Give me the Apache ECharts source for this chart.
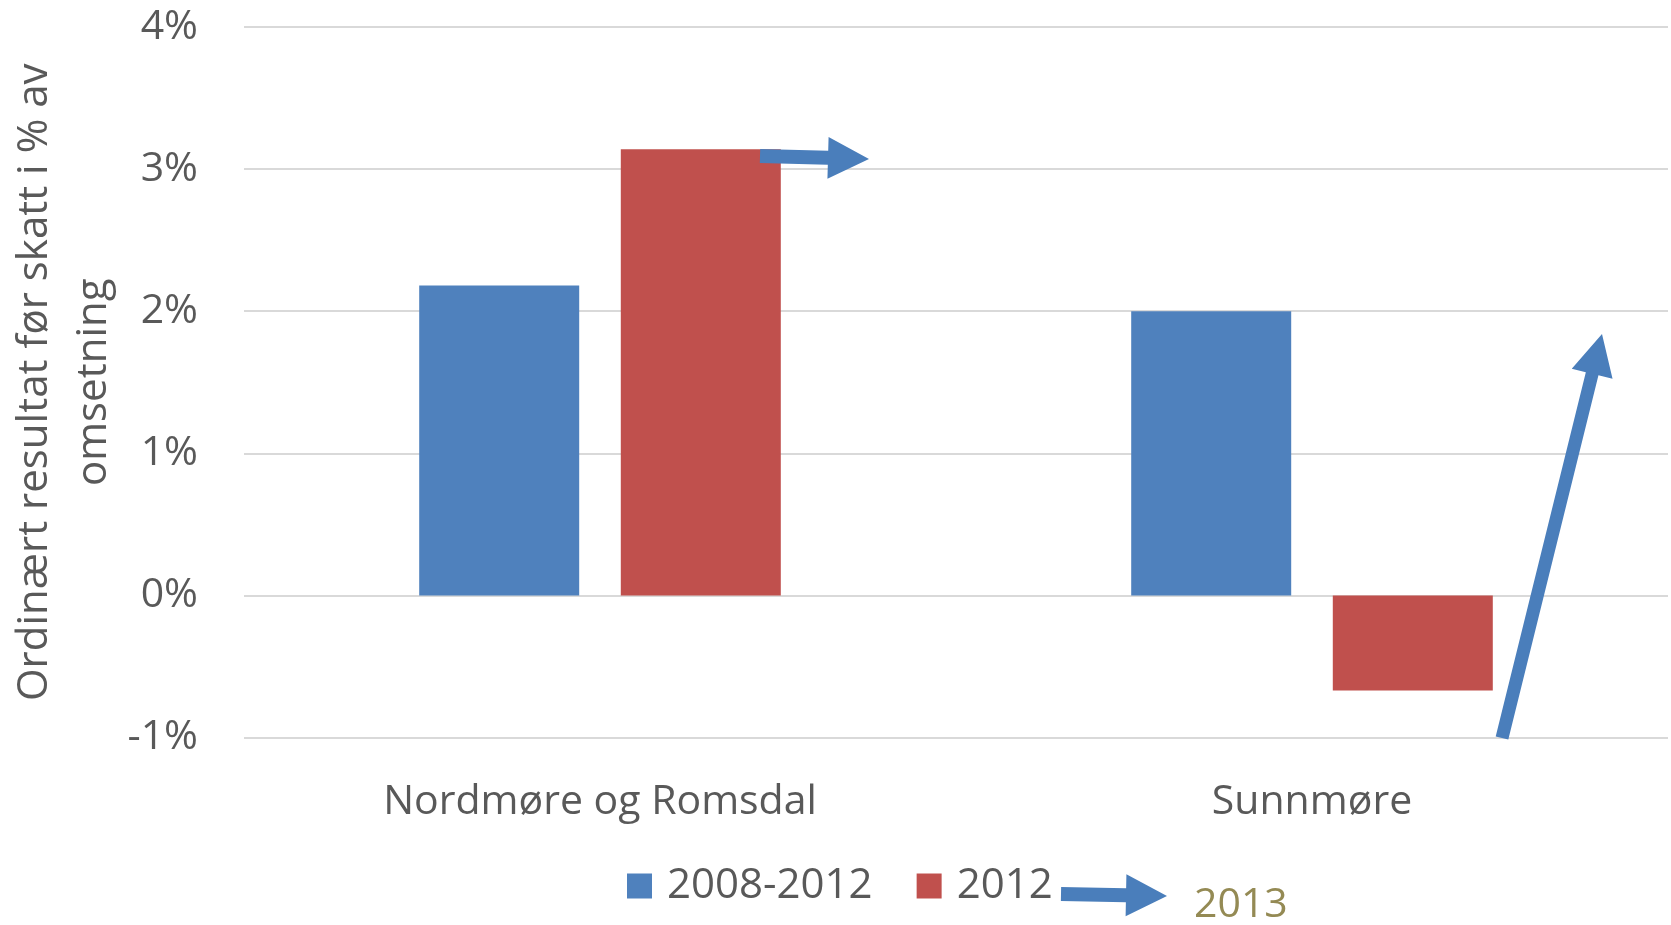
<!DOCTYPE html>
<html>
<head>
<meta charset="utf-8">
<script src="https://cdn.jsdelivr.net/npm/echarts@6/dist/echarts.min.js"></script>
<style>
  html, body { margin: 0; padding: 0; background: #fff; }
  #chart { width: 1671px; height: 925px; }
</style>
</head>
<body>
<div id="chart"></div>
<script>
const categories = ['Nordmøre og Romsdal', 'Sunnmøre'];
const avg2008to2012 = [2.18, 2.0];
const year2012 = [3.14, -0.67];
const seriesNames = ['2008-2012', '2012'];
const yMin = -1, yMax = 4, yStep = 1;

const textColor = '#595959';
const fontFamily = '"Open Sans", "Noto Sans", sans-serif';
const arrowColor = '#4A7EBB';

// block arrow polygon from (x1,y1) to tip (x2,y2)
function arrow(x1, y1, x2, y2, shaftW, headW, headL) {
  const dx = x2 - x1, dy = y2 - y1;
  const len = Math.sqrt(dx * dx + dy * dy);
  const ux = dx / len, uy = dy / len;
  const nx = -uy, ny = ux;
  const bx = x2 - ux * headL, by = y2 - uy * headL;
  const s = shaftW / 2, h = headW / 2;
  return {
    type: 'polygon',
    shape: {
      points: [
        [x1 + nx * s, y1 + ny * s],
        [bx + nx * s, by + ny * s],
        [bx + nx * h, by + ny * h],
        [x2, y2],
        [bx - nx * h, by - ny * h],
        [bx - nx * s, by - ny * s],
        [x1 - nx * s, y1 - ny * s]
      ]
    },
    style: { fill: arrowColor },
    z: 100
  };
}

const myChart = echarts.init(document.getElementById('chart'));

const option = {
  backgroundColor: '#fff',
  textStyle: { fontFamily: fontFamily },
  grid: { left: 244, right: 3, top: 27, bottom: 187.5, containLabel: false, outerBoundsMode: 'none' },
  legend: {
    data: seriesNames,
    left: 622,
    top: 860,
    itemWidth: 25,
    itemHeight: 25,
    itemGap: 44,
    icon: 'rect',
    textStyle: { fontSize: 42, color: textColor, fontFamily: fontFamily, padding: [0, 0, 0, 10] }
  },
  xAxis: {
    type: 'category',
    data: categories,
    axisLine: { show: false, onZero: false },
    axisTick: { show: false },
    axisLabel: { fontSize: 41, color: textColor, margin: 44, fontFamily: fontFamily }
  },
  yAxis: {
    type: 'value',
    min: yMin,
    max: yMax,
    interval: yStep,
    name: 'Ordinært resultat før skatt i % av\nomsetning',
    nameLocation: 'middle',
    nameRotate: 90,
    nameGap: 120,
    nameMoveOverlap: false,
    nameTextStyle: { fontSize: 42, color: textColor, lineHeight: 59, fontFamily: fontFamily },
    axisLine: { show: false },
    axisTick: { show: false },
    axisLabel: { formatter: '{value}%', fontSize: 41, color: textColor, margin: 46, fontFamily: fontFamily },
    splitLine: { lineStyle: { color: '#d9d9d9', width: 2 } }
  },
  series: [
    {
      name: seriesNames[0],
      type: 'bar',
      data: avg2008to2012,
      barWidth: 160,
      barGap: '26%',
      itemStyle: { color: '#4F81BD' }
    },
    {
      name: seriesNames[1],
      type: 'bar',
      data: year2012,
      barWidth: 160,
      barGap: '26%',
      itemStyle: { color: '#C0504D' }
    }
  ],
  graphic: [
    arrow(760, 156, 869, 159, 14, 42, 41),
    arrow(1502, 738, 1602, 334, 13, 42, 41),
    arrow(1061, 894, 1167, 896, 14, 42, 41),
    {
      type: 'text',
      left: 1194,
      top: 885,
      z: 100,
      style: { text: '2013', fontSize: 41, fill: '#948A54', fontFamily: fontFamily }
    }
  ]
};

myChart.setOption(option);
</script>
</body>
</html>
